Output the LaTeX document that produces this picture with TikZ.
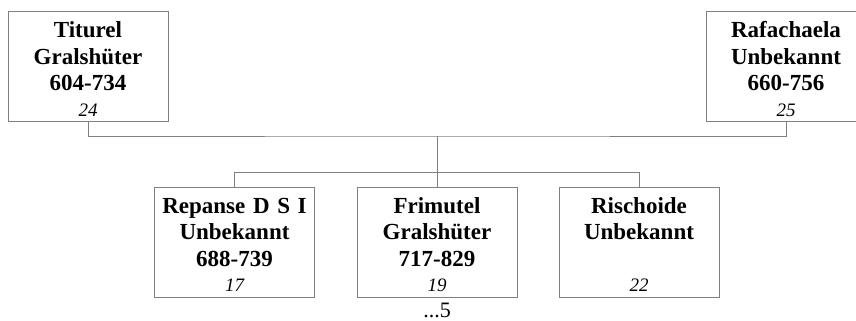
\documentclass[tikz,border=0pt]{standalone}
\usepackage{fontspec}
\setmainfont{Liberation Serif}
\definecolor{linegray}{RGB}{128,128,128}
\newcommand{\gennum}[1]{{\fontsize{19}{26}\selectfont\mdseries\itshape #1}}

\begin{document}
\begin{tikzpicture}[x=1pt,y=1pt,
    every node/.style={font=\fontsize{23}{26.5}\selectfont\bfseries},
    person/.style={draw=linegray, anchor=north, inner sep=0pt, align=center,
      text width=160pt, minimum width=160pt, text height=26.6pt, text depth=83.4pt}]
    \useasboundingbox (0,0) rectangle (856,321);

    \node[person] (tit) at (88,310)  {Titurel\\Gralshüter\\604-734\\[-1pt]\gennum{24}};
    \node[person] (raf) at (786,310) {Rafachaela\\Unbekannt\\660-756\\[-1pt]\gennum{25}};

    \node[person] (rep) at (234.5,134.3) {Repanse D S I\\Unbekannt\\688-739\\[-1pt]\gennum{17}};
    \node[person] (fri) at (437,134.3)   {Frimutel\\Gralshüter\\717-829\\[-1pt]\gennum{19}};
    \node[person] (ris) at (639,134.3)   {Rischoide\\Unbekannt\\\mbox{}\\[-1pt]\gennum{22}};

    \node[anchor=base, font=\fontsize{22}{26}\selectfont] (more) at (437,4) {...5};

    \coordinate (m) at (437,185);
    \coordinate (c) at (437,149);

    \draw[linegray] (tit.south) |- (m) -| (raf.south);
    \draw[linegray] (m) -- (c);
    \foreach \to in {rep,fri,ris}
    \draw[linegray] (c) -| (\to.north);
  \end{tikzpicture}
\end{document}
